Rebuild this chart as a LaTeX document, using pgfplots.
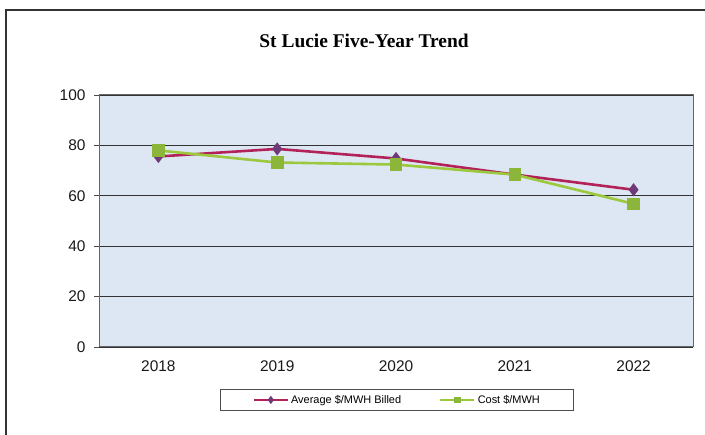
\documentclass[border=0pt]{standalone}
\usepackage{pgfplots}
\pgfplotsset{compat=1.18}
\usepackage{fontspec}
\setmainfont{Liberation Sans}
\newfontfamily\titlefont{Liberation Serif}

\definecolor{plotbg}{RGB}{221,231,243}
\definecolor{avgline}{RGB}{178,34,88}
\definecolor{avgmark}{RGB}{112,58,120}
\definecolor{costline}{RGB}{155,200,60}
\definecolor{costmark}{RGB}{140,182,58}

\begin{document}
\begin{tikzpicture}[x=1bp,y=1bp]
  \useasboundingbox (0,0) rectangle (705,435);
  % outer chart frame (left and top edges visible)
  \draw[line width=1.2bp, black!80] (6,0) -- (6,425) -- (705,425);
  \node[font=\titlefont\bfseries\fontsize{19.5}{22}\selectfont] at (364,394) {St Lucie Five-Year Trend};

  \begin{axis}[
      at={(99bp,88bp)}, anchor=south west,
      scale only axis, width=594bp, height=252bp,
      xmin=-0.5, xmax=4.5, ymin=0, ymax=100,
      xtick={0,...,4},
      xticklabels={2018,2019,2020,2021,2022},
      x tick style={draw=none},
      extra x ticks={0.5,1.5,2.5,3.5},
      extra x tick labels={},
      extra x tick style={grid=none, tick style={draw=black!70, line width=0.8bp}},
      ytick={0,20,...,100},
      tick align=outside, tick pos=left,
      major tick length=5bp,
      y tick style={draw=black!70, line width=0.8bp},
      ymajorgrids,
      grid style={black!80, line width=0.8bp},
      axis line style={black!60, line width=1bp},
      axis background/.style={fill=plotbg},
      tick label style={font=\fontsize{15.5}{18}\selectfont, text=black!90},
      xticklabel style={yshift=-5bp},
      yticklabel style={xshift=-5bp},
      /pgf/number format/assume math mode=true,
      legend style={
        at={(0.502,-0.21)}, anchor=center,
        draw=black!70, line width=0.8bp,
        font=\fontsize{11}{13}\selectfont,
        inner xsep=32bp, inner ysep=4bp,
        /tikz/every even column/.append style={column sep=36bp},
      },
      legend columns=2,
      legend image code/.code={
        \draw[#1, mark repeat=2, mark phase=2, mark size=2bp]
          plot coordinates {(0bp,0bp) (17bp,0bp) (34bp,0bp)};
      },
    ]
    \addplot[avgline, line width=2.6bp, mark=diamond*, mark size=4.5bp,
             mark options={fill=avgmark, draw=avgmark}]
      coordinates {(0,75.6) (1,78.6) (2,74.8) (3,68.4) (4,62.4)};
    \addlegendentry{Average \$/MWH Billed}
    \addplot[costline, line width=2.6bp, mark=square*, mark size=5bp,
             mark options={fill=costmark, draw=costmark}]
      coordinates {(0,78.0) (1,73.2) (2,72.4) (3,68.4) (4,56.8)};
    \addlegendentry{Cost \$/MWH}
  \end{axis}
\end{tikzpicture}
\end{document}
